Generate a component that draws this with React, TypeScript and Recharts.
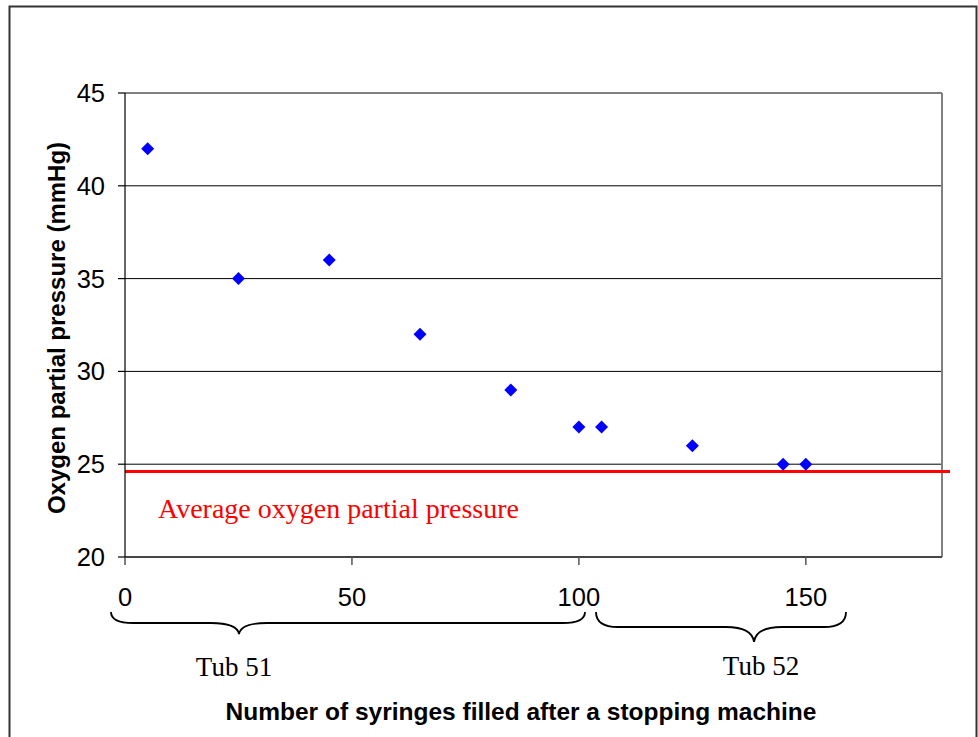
import {
  Label,
  CartesianGrid,
  ReferenceLine,
  Scatter,
  ScatterChart,
  XAxis,
  YAxis,
} from "recharts";

const syringes = [5, 25, 45, 65, 85, 100, 105, 125, 145, 150];
const oxygen = [42, 35, 36, 32, 29, 27, 27, 26, 25, 25];
const averageOxygen = 24.6;
const xTicks = [0, 50, 100, 150];
const yTicks = [20, 25, 30, 35, 40, 45];

const points = syringes.map((x, i) => ({ x, y: oxygen[i] }));

const sans = "'Liberation Sans', Arial, sans-serif";
const serif = "'Liberation Serif', 'Times New Roman', serif";

function Diamond(props: any) {
  const { cx, cy } = props;
  const r = 6.5;
  return (
    <polygon
      points={`${cx},${cy - r} ${cx + r},${cy} ${cx},${cy + r} ${cx - r},${cy}`}
      fill="#0000ff"
    />
  );
}

function Brace({ x1, x2, mid, top, depth }: { x1: number; x2: number; mid: number; top: number; depth: number }) {
  const h = top + depth * 0.5;
  const tip = top + depth;
  const d = [
    `M ${x1} ${top}`,
    `Q ${x1} ${h} ${x1 + 22} ${h}`,
    `L ${mid - 28} ${h}`,
    `Q ${mid - 2} ${h} ${mid} ${tip}`,
    `Q ${mid + 2} ${h} ${mid + 28} ${h}`,
    `L ${x2 - 22} ${h}`,
    `Q ${x2} ${h} ${x2} ${top}`,
  ].join(" ");
  return <path d={d} fill="none" stroke="#000" strokeWidth={1.8} />;
}

export default function App() {
  return (
    <div style={{ position: "absolute", left: 0, top: 0, width: 978, height: 737, background: "#fff", overflow: "hidden" }}>
      <ScatterChart width={978} height={737} margin={{ top: 93, right: 36, bottom: 150, left: 0 }}>
        <CartesianGrid horizontal vertical={false} stroke="#000" strokeWidth={1} />
        <XAxis
          type="number"
          dataKey="x"
          domain={[0, 180]}
          ticks={xTicks}
          height={30}
          tickSize={8}
          tickMargin={23}
          axisLine={{ stroke: "#333", strokeWidth: 1.5 }}
          tickLine={{ stroke: "#555", strokeWidth: 1.5 }}
          tick={{ fontFamily: sans, fontSize: 25.5, fill: "#000" }}
        />
        <YAxis
          type="number"
          dataKey="y"
          domain={[20, 45]}
          ticks={yTicks}
          width={125}
          tickSize={7}
          tickMargin={13}
          axisLine={{ stroke: "#000", strokeWidth: 1.2 }}
          tickLine={{ stroke: "#000", strokeWidth: 1.2 }}
          tick={{ fontFamily: sans, fontSize: 25.5, fill: "#000" }}
        >
          <Label
            value="Oxygen partial pressure (mmHg)"
            angle={-90}
            position="insideLeft"
            offset={0}
            content={(p: any) => (
              <text
                x={65}
                y={328}
                transform="rotate(-90 65 328)"
                textAnchor="middle"
                fontFamily={sans}
                fontSize={24}
                fontWeight="bold"
                fill="#000"
              >
                {p.value}
              </text>
            )}
          />
        </YAxis>
        <ReferenceLine x={180} stroke="#808080" strokeWidth={2} />
        <ReferenceLine
          y={averageOxygen}
          stroke="#ff0000"
          strokeWidth={3}
          ifOverflow="visible"
          shape={(p: any) => (
            <line x1={p.x1} y1={p.y1} x2={p.x2 + 8} y2={p.y2} stroke="#ff0000" strokeWidth={3} />
          )}
          label={{
            value: "Average oxygen partial pressure",
            content: (p: any) => (
              <text
                x={p.viewBox.x + 33}
                y={p.viewBox.y + 46}
                fontFamily={serif}
                fontSize={28}
                fill="#ff0000"
              >
                {p.value}
              </text>
            ),
          }}
        />
        <Scatter data={points} shape={Diamond} isAnimationActive={false} />
      </ScatterChart>
      <svg
        width={978}
        height={737}
        style={{ position: "absolute", left: 0, top: 0, pointerEvents: "none" }}
      >
        <rect x={9.5} y={6.5} width={967} height={760} fill="none" stroke="#333" strokeWidth={2} />
        <Brace x1={111} x2={585} mid={239} top={612} depth={22} />
        <Brace x1={596} x2={846} mid={754} top={612} depth={30} />
        <text x={234} y={676} textAnchor="middle" fontFamily={serif} fontSize={27} fill="#000">
          Tub 51
        </text>
        <text x={761} y={675} textAnchor="middle" fontFamily={serif} fontSize={27} fill="#000">
          Tub 52
        </text>
        <text x={521} y={720} textAnchor="middle" fontFamily={sans} fontSize={24.5} fontWeight="bold" fill="#000">
          Number of syringes filled after a stopping machine
        </text>
      </svg>
    </div>
  );
}
